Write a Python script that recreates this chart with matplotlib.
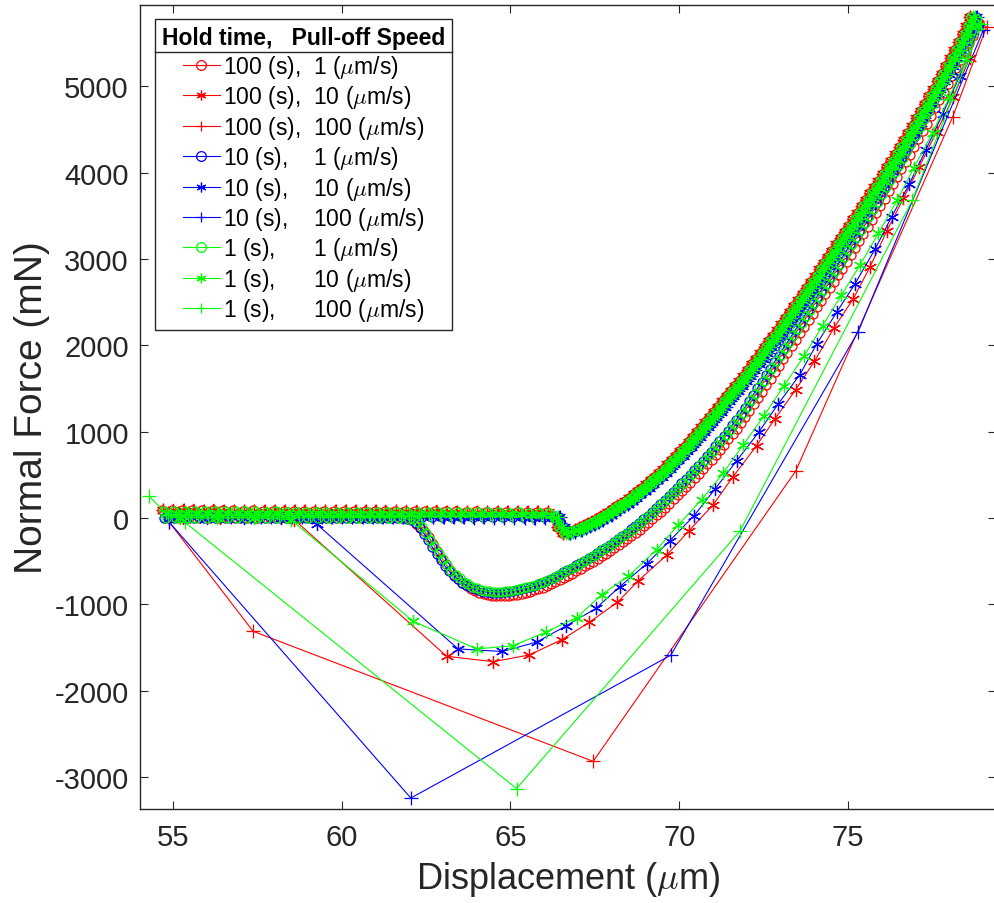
import matplotlib
matplotlib.use('Agg')
import matplotlib.pyplot as plt
from matplotlib.lines import Line2D
from matplotlib.transforms import IdentityTransform

plt.rcParams['font.family'] = ['Liberation Sans', 'DejaVu Sans']
plt.rcParams['mathtext.fontset'] = 'cm'
plt.rcParams['axes.unicode_minus'] = False

# ---------------- data ----------------
legend_labels = [
    '100 (s),  1 ($\\mu$m/s)', '100 (s),  10 ($\\mu$m/s)', '100 (s),  100 ($\\mu$m/s)',
    '10 (s),    1 ($\\mu$m/s)', '10 (s),    10 ($\\mu$m/s)', '10 (s),    100 ($\\mu$m/s)',
    '1 (s),      1 ($\\mu$m/s)', '1 (s),      10 ($\\mu$m/s)', '1 (s),      100 ($\\mu$m/s)',
]

# loading (approach) curve, common shape of all tests
load_x = [54.8, 55.1, 55.4, 55.7, 56.0, 56.3, 56.6, 56.9, 57.2, 57.5, 57.8, 58.1, 58.4,
          58.7, 59.0, 59.3, 59.6, 59.9, 60.2, 60.5, 60.8, 61.1, 61.4, 61.7, 62.0, 62.3,
          62.6, 62.9, 63.2, 63.5, 63.8, 64.1, 64.4, 64.7, 65.0, 65.3, 65.6, 65.9, 66.2,
          66.35, 66.5, 66.65, 66.8, 67.0, 67.125, 67.25, 67.375, 67.5, 67.625, 67.75,
          67.875, 68.0, 68.125, 68.25, 68.375, 68.5, 68.625, 68.75, 68.875, 69.0, 69.125,
          69.25, 69.375, 69.5, 69.625, 69.75, 69.875, 70.0, 70.125, 70.25, 70.375, 70.5,
          70.625, 70.75, 70.875, 71.0, 71.125, 71.25, 71.375, 71.5, 71.625, 71.75, 71.875,
          72.0, 72.125, 72.25, 72.375, 72.5, 72.625, 72.75, 72.875, 73.0, 73.125, 73.25,
          73.375, 73.5, 73.625, 73.75, 73.875, 74.0, 74.125, 74.25, 74.375, 74.5, 74.625,
          74.75, 74.875, 75.0, 75.125, 75.25, 75.375, 75.5, 75.625, 75.75, 75.875, 76.0,
          76.125, 76.25, 76.375, 76.5, 76.625, 76.75, 76.875, 77.0, 77.125, 77.25, 77.375,
          77.5, 77.625, 77.75, 77.875, 78.0, 78.125, 78.25, 78.375, 78.5, 78.6, 78.7]
load_f = [60, 58, 60, 57, 56, 58, 55, 56, 54, 55, 53, 54, 52, 53, 51, 52, 50, 51, 49, 50,
          48, 49, 47, 48, 46, 47, 45, 46, 44, 45, 43, 44, 42, 43, 41, 42, 40, 41, 38,
          10, -110, -170, -160, -135, -115, -95, -70, -45, -18, 10, 40, 70, 102, 135, 167,
          200, 237, 275, 312, 350, 392, 435, 480, 525, 572, 620, 670, 720, 772, 825, 880,
          935, 992, 1050, 1110, 1170, 1230, 1290, 1350, 1410, 1470, 1530, 1590, 1650, 1715,
          1780, 1845, 1910, 1977, 2045, 2112, 2180, 2247, 2315, 2385, 2455, 2525, 2595,
          2665, 2735, 2807, 2880, 2952, 3025, 3097, 3170, 3242, 3315, 3387, 3460, 3535,
          3610, 3685, 3760, 3835, 3910, 3987, 4065, 4142, 4220, 4300, 4380, 4462, 4545,
          4630, 4715, 4800, 4885, 4972, 5060, 5150, 5240, 5330, 5420, 5515, 5610, 5705,
          5800]
# test-to-test scatter of the loading curves (x shift, force shift on the flat part)
load_dx = [-0.12, -0.1, -0.08, 0.08, 0.1, 0.12, -0.05, 0.0, 0.05]
load_df = [32, 30, 28, -32, -35, -38, 22, 0, -22]

# unloading at 1 um/s (dense record)
u1_x = [78.8, 78.625, 78.5, 78.375, 78.25, 78.125, 78.0, 77.875, 77.75, 77.625, 77.5,
        77.375, 77.25, 77.125, 77.0, 76.875, 76.75, 76.625, 76.5, 76.375, 76.25, 76.125,
        76.0, 75.875, 75.75, 75.625, 75.5, 75.375, 75.25, 75.125, 75.0, 74.875, 74.75,
        74.625, 74.5, 74.375, 74.25, 74.125, 74.0, 73.875, 73.75, 73.625, 73.5, 73.375,
        73.25, 73.125, 73.0, 72.875, 72.75, 72.625, 72.5, 72.375, 72.25, 72.125, 72.0,
        71.875, 71.75, 71.625, 71.5, 71.375, 71.25, 71.125, 71.0, 70.875, 70.75, 70.625,
        70.5, 70.375, 70.25, 70.125, 70.0, 69.875, 69.75, 69.625, 69.5, 69.375, 69.25,
        69.125, 69.0, 68.875, 68.75, 68.625, 68.5, 68.375, 68.25, 68.125, 68.0, 67.875,
        67.75, 67.625, 67.5, 67.375, 67.25, 67.125, 67.0, 66.875, 66.75, 66.625, 66.5,
        66.375, 66.25, 66.125, 66.0, 65.875, 65.75, 65.625, 65.5, 65.375, 65.25, 65.125,
        65.0, 64.875, 64.75, 64.625, 64.5, 64.375, 64.25, 64.125, 64.0, 63.875, 63.75,
        63.625, 63.5, 63.375, 63.25, 63.125, 63.0, 62.875, 62.75, 62.625, 62.5, 62.375,
        62.25, 62.125, 62.0, 61.7, 61.4, 61.1, 60.8, 60.5, 60.2, 59.9, 59.6, 59.3, 59.0,
        58.7, 58.4, 58.1, 57.8, 57.5, 57.2, 56.9, 56.6, 56.3, 56.0, 55.7, 55.4, 55.1,
        54.8]
u1_f = [5760, 5620, 5530, 5435, 5340, 5245, 5150, 5055, 4960, 4870, 4780, 4690, 4600,
        4510, 4420, 4330, 4240, 4155, 4070, 3985, 3900, 3815, 3730, 3645, 3560, 3480,
        3400, 3320, 3240, 3160, 3080, 3000, 2920, 2845, 2770, 2695, 2620, 2545, 2470,
        2395, 2320, 2245, 2170, 2095, 2020, 1945, 1870, 1795, 1720, 1645, 1570, 1495,
        1420, 1345, 1270, 1200, 1130, 1065, 1000, 940, 880, 820, 760, 705, 650, 597, 545,
        492, 440, 390, 340, 292, 245, 197, 150, 105, 60, 17, -25, -65, -105, -142, -180,
        -215, -250, -285, -320, -352, -385, -415, -445, -475, -505, -532, -560, -588,
        -615, -640, -665, -690, -715, -738, -760, -778, -795, -810, -825, -837, -848,
        -857, -865, -870, -875, -876, -875, -870, -862, -850, -835, -815, -790, -758,
        -720, -678, -630, -570, -500, -428, -350, -270, -190, -125, -70, -35, -15, 5, 0,
        5, 0, 5, 0, 5, 0, 5, 0, 5, 0, 5, 0, 5, 0, 5, 0, 5, 0, 5, 0, 5, 0]
u1_dx = [0.08, -0.06, 0.0]
u1_df = [-30, 10, 20]

# unloading at 10 um/s (sparse record), one list per hold time
u10_x_100 = [78.85, 78.6, 78.12, 77.62, 77.11, 76.64, 76.14, 75.65, 75.15, 74.58, 74.0,
             73.45, 72.83, 72.29, 71.58, 71.0, 70.29, 69.63, 68.79, 68.17, 67.34, 66.52,
             65.56, 64.49, 63.11, 58.6, 57.5, 56.4, 55.3]
u10_f_100 = [5720, 5330, 4880, 4476, 4071, 3705, 3320, 2911, 2538, 2201, 1815, 1487,
             1147, 838, 472, 151, -147, -429, -726, -976, -1208, -1410, -1587, -1665,
             -1602, -20, 10, 5, 0]
u10_x_10 = [78.85, 78.3, 77.8, 77.3, 76.81, 76.29, 75.8, 75.2, 74.66, 74.07, 73.57, 72.93,
            72.35, 71.7, 71.06, 70.44, 69.72, 69.03, 68.24, 67.53, 66.64, 65.78, 64.76,
            63.45, 59.26, 58.2, 57.1, 56.0, 54.9]
u10_f_10 = [5680, 5120, 4680, 4263, 3868, 3490, 3117, 2711, 2383, 2016, 1660, 1321, 992,
            663, 336, 27, -263, -533, -795, -1048, -1252, -1437, -1547, -1517, -70, 0,
            5, 0, 0]
u10_x_1 = [78.85, 78.5, 78.0, 77.5, 76.95, 76.45, 75.9, 75.35, 74.8, 74.25, 73.7, 73.1,
           72.5, 71.9, 71.3, 70.66, 69.97, 69.33, 68.49, 67.7, 66.96, 66.06, 65.08, 64.0,
           62.12, 58.5, 57.4, 56.3, 55.2]
u10_f_1 = [5700, 5320, 4880, 4460, 4060, 3680, 3300, 2930, 2580, 2230, 1880, 1530, 1180,
           849, 520, 210, -80, -367, -676, -889, -1155, -1320, -1480, -1517, -1197, -20,
           5, 0, 5]

# unloading at 100 um/s (only a few samples)
u100_x_100 = [79.1, 78.1, 73.45, 67.45, 57.38, 54.9]
u100_f_100 = [5690, 4650, 545, -2820, -1313, -50]
u100_x_10 = [79.0, 75.3, 69.75, 62.05, 54.9]
u100_f_10 = [5650, 2160, -1590, -3245, -50]
u100_x_1 = [78.95, 76.9, 71.8, 65.18, 55.36]
u100_f_1 = [5720, 3680, -150, -3135, -50]
first_x_1s_100 = [54.3]                # first sample of the 1 s / 100 um/s run
first_f_1s_100 = [250]

colors = [(1, 0, 0), (0, 0, 1), (0, 1, 0)]
markers = ['o', (6, 2, 0), '+']
msizes = [6.5, 9.5, 10]

# ---------------- figure ----------------
fig = plt.figure(figsize=(9.95, 9.04), dpi=100)
ax = fig.add_axes([140 / 995, 94 / 904, 856 / 995, 804 / 904])

u10_x = [u10_x_100, u10_x_10, u10_x_1]
u10_f = [u10_f_100, u10_f_10, u10_f_1]
u100_x = [u100_x_100, u100_x_10, u100_x_1]
u100_f = [u100_f_100, u100_f_10, u100_f_1]

handles = []
k = 0
for g in range(3):
    for s in range(3):
        lx = [v + load_dx[k] for v in load_x]
        lf = [v + load_df[k] if x < 66.3 else v for v, x in zip(load_f, load_x)]
        if s == 0:
            ux = [v + u1_dx[g] for v in u1_x]
            uf = [v + u1_df[g] if x > 62.1 else v for v, x in zip(u1_f, u1_x)]
        elif s == 1:
            ux, uf = u10_x[g], u10_f[g]
        else:
            ux, uf = u100_x[g], u100_f[g]
        xs = lx + ux
        fs = lf + uf
        if g == 2 and s == 2:
            xs = first_x_1s_100 + xs
            fs = first_f_1s_100 + fs
        mfc = 'none' if s == 0 else colors[g]
        h, = ax.plot(xs, fs, color=colors[g], lw=0.8, marker=markers[s],
                     ms=msizes[s], mfc=mfc, mec=colors[g], mew=0.9,
                     label=legend_labels[k])
        handles.append(h)
        k += 1

ax.set_xlim(54.03, 79.38)
ax.set_ylim(-3372, 5944)
ax.set_xticks([55, 60, 65, 70, 75])
ax.set_yticks([-3000, -2000, -1000, 0, 1000, 2000, 3000, 4000, 5000])
ax.tick_params(direction='in', length=6, width=0.8, colors='#262626',
               labelsize=21, top=True, right=True)
ax.tick_params(axis='x', pad=10)
ax.tick_params(axis='y', pad=8)
for sp in ax.spines.values():
    sp.set_color('#262626')
    sp.set_linewidth(1.0)

ax.set_xlabel('Displacement ($\\mu$m)', fontsize=26, color='#262626', labelpad=6)
ax.set_ylabel('Normal Force (mN)', fontsize=28, color='#262626', labelpad=3)

leg = ax.legend(handles=handles, loc='upper left', bbox_to_anchor=(0.0175, 0.982),
                borderaxespad=0, fontsize=16.5, title='Hold time,   Pull-off Speed',
                title_fontproperties={'weight': 'bold', 'size': 16.5},
                frameon=True, fancybox=False, edgecolor='#262626', framealpha=1,
                handlelength=1.6, handletextpad=0.15, labelspacing=0.15,
                borderpad=0.3)
leg.get_frame().set_linewidth(1.0)
for lh in leg.legend_handles:
    lh.set_markersize(7)

fig.canvas.draw()
r = fig.canvas.get_renderer()
bb = leg.get_window_extent(r)
tb = leg.get_title().get_window_extent(r)
yline = tb.y0 - 3
fig.add_artist(Line2D([bb.x0, bb.x1], [yline, yline], transform=IdentityTransform(),
                      color='#262626', lw=1.0))

fig.savefig('out.png', dpi=100)
